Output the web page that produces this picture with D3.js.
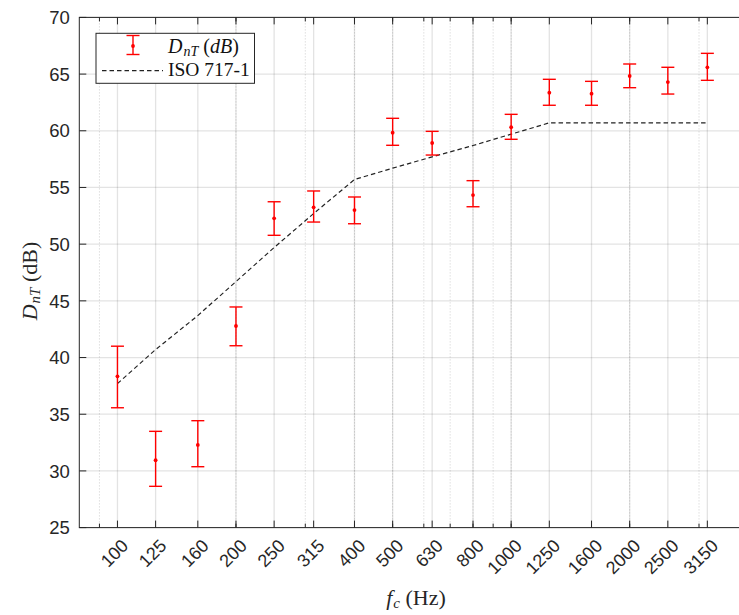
<!DOCTYPE html>
<html>
<head>
<meta charset="utf-8">
<script src="https://cdn.jsdelivr.net/npm/d3@7"></script>
<style>
  body { margin: 0; background: #fff; }
  svg { display: block; }
</style>
</head>
<body>
<div id="chart"></div>
<script>
// one-third octave band centre frequencies (Hz)
const bands = [100, 125, 160, 200, 250, 315, 400, 500, 630, 800, 1000, 1250, 1600, 2000, 2500, 3150];
// measured DnT and the ends of the error bars (dB)
const dnt     = [38.34, 30.94, 32.29, 42.78, 52.28, 53.25, 53.01, 59.83, 58.92, 54.33, 60.31, 63.36, 63.27, 64.83, 64.30, 65.60];
const dntLow  = [35.57, 28.64, 30.37, 41.04, 50.78, 51.95, 51.80, 58.72, 57.86, 53.30, 59.25, 62.25, 62.25, 63.80, 63.24, 64.45];
const dntHigh = [41.00, 33.49, 34.43, 44.46, 53.74, 54.69, 54.16, 61.10, 59.95, 55.60, 61.45, 64.54, 64.36, 65.89, 65.60, 66.83];
// shifted ISO 717-1 reference curve (dB)
const isoRef  = [37.7, 40.7, 43.7, 46.7, 49.7, 52.7, 55.7, 56.7, 57.7, 58.7, 59.7, 60.7, 60.7, 60.7, 60.7, 60.7];
// axis ticks
const yTicks = [25, 30, 35, 40, 45, 50, 55, 60, 65, 70];
const minorFreqs = [90, 200, 300, 400, 500, 600, 700, 800, 900, 1000, 2000, 3000];

const W = 739, H = 615;
const plot = {left: 79.3, top: 17.4, right: 748.2, bottom: 527.6};
const axisColor = '#262626';
const sans = '"Liberation Sans", Arial, Helvetica, sans-serif';
const serif = '"Liberation Serif", "Times New Roman", serif';

const svg = d3.select('#chart').append('svg')
    .attr('width', W)
    .attr('height', H);

const x = d3.scaleLog().domain([80, 4000]).range([plot.left, plot.right]);
const y = d3.scaleLinear().domain([25, 70]).range([plot.bottom, plot.top]);

// grid: dotted minor lines first, then solid major lines
let grid = svg.append('g').attr('id', 'grid');
grid.selectAll('line.minor').data(minorFreqs).enter()
    .append('line').classed('minor', true)
    .attr('x1', d => x(d)).attr('x2', d => x(d))
    .attr('y1', plot.top).attr('y2', plot.bottom)
    .style('stroke', axisColor).style('stroke-opacity', 0.22)
    .style('stroke-width', 1).style('stroke-dasharray', '1,2');
grid.selectAll('line.vmajor').data(bands).enter()
    .append('line').classed('vmajor', true)
    .attr('x1', d => x(d)).attr('x2', d => x(d))
    .attr('y1', plot.top).attr('y2', plot.bottom)
    .style('stroke', axisColor).style('stroke-opacity', 0.13).style('stroke-width', 1.3);
grid.selectAll('line.hmajor').data(yTicks).enter()
    .append('line').classed('hmajor', true)
    .attr('x1', plot.left).attr('x2', plot.right)
    .attr('y1', d => y(d)).attr('y2', d => y(d))
    .style('stroke', axisColor).style('stroke-opacity', 0.13).style('stroke-width', 1.3);

// ISO reference curve
const line = d3.line().x((d, i) => x(bands[i])).y(d => y(d));
svg.append('path')
    .datum(isoRef)
    .attr('d', line)
    .style('fill', 'none')
    .style('stroke', '#222')
    .style('stroke-width', 1.2)
    .style('stroke-dasharray', '4.5,3');

// error bars
const capW = 6.5;
let bars = svg.append('g').attr('id', 'errorbars')
    .selectAll('g').data(bands).enter().append('g');
bars.append('line')
    .attr('x1', d => x(d)).attr('x2', d => x(d))
    .attr('y1', (d, i) => y(dntLow[i])).attr('y2', (d, i) => y(dntHigh[i]));
bars.append('line')
    .attr('x1', d => x(d) - capW).attr('x2', d => x(d) + capW)
    .attr('y1', (d, i) => y(dntLow[i])).attr('y2', (d, i) => y(dntLow[i]));
bars.append('line')
    .attr('x1', d => x(d) - capW).attr('x2', d => x(d) + capW)
    .attr('y1', (d, i) => y(dntHigh[i])).attr('y2', (d, i) => y(dntHigh[i]));
bars.selectAll('line').style('stroke', '#ff0000').style('stroke-width', 1.4);
bars.append('circle')
    .attr('cx', d => x(d)).attr('cy', (d, i) => y(dnt[i]))
    .attr('r', 1.9)
    .style('fill', '#ff0000');

// axes box with inward ticks
let axes = svg.append('g').attr('id', 'axes');
axes.append('rect')
    .attr('x', plot.left).attr('y', plot.top)
    .attr('width', plot.right - plot.left).attr('height', plot.bottom - plot.top)
    .style('fill', 'none').style('stroke', axisColor).style('stroke-width', 1);
[plot.bottom, plot.top].forEach(function(yy) {
    let dir = yy === plot.bottom ? -1 : 1;
    axes.selectAll(null).data(bands).enter().append('line')
        .attr('x1', d => x(d)).attr('x2', d => x(d))
        .attr('y1', yy).attr('y2', yy + dir * 7);
    axes.selectAll(null).data(minorFreqs).enter().append('line')
        .attr('x1', d => x(d)).attr('x2', d => x(d))
        .attr('y1', yy).attr('y2', yy + dir * 4);
});
axes.selectAll(null).data(yTicks).enter().append('line')
    .attr('x1', plot.left).attr('x2', plot.left + 7)
    .attr('y1', d => y(d)).attr('y2', d => y(d));
axes.selectAll('line').style('stroke', axisColor).style('stroke-width', 1);

// tick labels
svg.append('g').selectAll('text').data(yTicks).enter()
    .append('text')
    .attr('x', plot.left - 9.5)
    .attr('y', d => y(d))
    .attr('dy', '0.36em')
    .attr('text-anchor', 'end')
    .style('font-family', sans).style('font-size', '18.5px').style('fill', axisColor)
    .text(d => d);
svg.append('g').selectAll('text').data(bands).enter()
    .append('text')
    .attr('transform', d => 'translate(' + (x(d) + 12) + ',547) rotate(-45)')
    .attr('text-anchor', 'end')
    .style('font-family', sans).style('font-size', '18px').style('fill', axisColor)
    .text(d => d);

// axis labels
let xl = svg.append('text')
    .attr('x', 416).attr('y', 605)
    .attr('text-anchor', 'middle')
    .style('font-family', serif).style('font-size', '22px').style('fill', axisColor);
xl.append('tspan').style('font-style', 'italic').text('f');
xl.append('tspan').style('font-style', 'italic').style('font-size', '15px').attr('dy', 3).attr('dx', 1).text('c');
xl.append('tspan').attr('dy', -3).text(' (Hz)');

let yl = svg.append('text')
    .attr('transform', 'translate(37,281) rotate(-90)')
    .attr('text-anchor', 'middle')
    .style('font-family', serif).style('font-size', '22px').style('fill', axisColor);
yl.append('tspan').style('font-style', 'italic').text('D');
yl.append('tspan').style('font-style', 'italic').style('font-size', '15px').attr('dy', 3).attr('dx', 1).text('nT');
yl.append('tspan').attr('dy', -3).text(' (dB)');

// legend
let lg = svg.append('g').attr('id', 'legend');
lg.append('rect')
    .attr('x', 96).attr('y', 33.3).attr('width', 158.5).attr('height', 50)
    .style('fill', '#fff').style('stroke', axisColor).style('stroke-width', 1);
let icon = lg.append('g');
icon.append('line').attr('x1', 133).attr('x2', 133).attr('y1', 35.5).attr('y2', 54.5);
icon.append('line').attr('x1', 126.5).attr('x2', 139.5).attr('y1', 35.5).attr('y2', 35.5);
icon.append('line').attr('x1', 126.5).attr('x2', 139.5).attr('y1', 54.5).attr('y2', 54.5);
icon.selectAll('line').style('stroke', '#ff0000').style('stroke-width', 1.4);
icon.append('circle').attr('cx', 133).attr('cy', 46).attr('r', 1.9).style('fill', '#ff0000');
lg.append('line')
    .attr('x1', 102).attr('x2', 163).attr('y1', 70.7).attr('y2', 70.7)
    .style('stroke', '#222').style('stroke-width', 1.2).style('stroke-dasharray', '4.5,3');
let t1 = lg.append('text')
    .attr('x', 168).attr('y', 52.5)
    .style('font-family', serif).style('font-size', '20px').style('fill', '#111');
t1.append('tspan').style('font-style', 'italic').text('D');
t1.append('tspan').style('font-style', 'italic').style('font-size', '14px').attr('dy', 3).attr('dx', 1).text('nT');
t1.append('tspan').attr('dy', -3).text(' (');
t1.append('tspan').style('font-style', 'italic').text('dB');
t1.append('tspan').text(')');
lg.append('text')
    .attr('x', 168).attr('y', 76)
    .style('font-family', serif).style('font-size', '19.5px').style('fill', '#111')
    .text('ISO 717-1');
</script>
</body>
</html>
